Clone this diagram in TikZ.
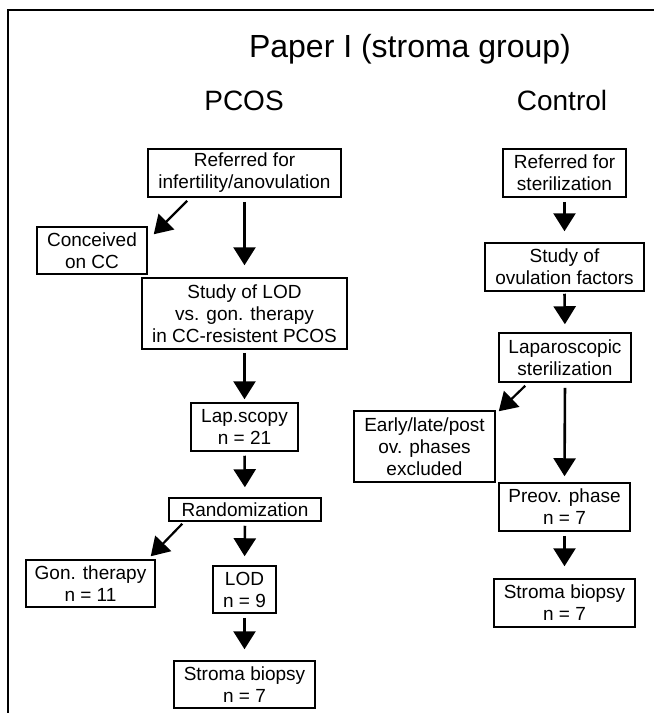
\documentclass[tikz,border=0pt]{standalone}
\usepackage{fontspec}
\setmainfont{Liberation Sans}
\usetikzlibrary{arrows.meta,calc}

\tikzset{every picture/.style={line width=1.5pt}}
\tikzset{
  box/.style={draw, align=center, inner sep=0pt, font=\fontsize{19}{22}\selectfont},
  arr/.style={line width=2.6pt, -{Triangle[width=22pt,length=18pt]}, shorten <=4pt, shorten >=10pt},
  diag/.style={line width=2.2pt, -{Triangle[width=22pt,length=18pt]}}
}

\begin{document}
\begin{tikzpicture}[x=1pt,y=1pt,yscale=-1,xscale=1]
\useasboundingbox (0,0) rectangle (654,713);

%Shape: Frame
\draw [line width=1.8pt] (8,10) rectangle (700,760);

% Text Node
\node (title) at (410,57) [anchor=base] {\fontsize{32}{38}\selectfont Paper I (stroma group)};
% Text Node
\node (pcos) at (244,110) [anchor=base] {\fontsize{28}{34}\selectfont PCOS};
% Text Node
\node (ctrl) at (562,110) [anchor=base] {\fontsize{28}{34}\selectfont Control};

%Shape: Rectangle -- PCOS column
\node (ref) at (244.5,173) [box, minimum width=193, minimum height=48] {Referred for\\infertility/anovulation};
\node (conc) at (92,250.5) [box, minimum width=110, minimum height=47] {Conceived\\on CC};
\node (study) at (244.5,313.5) [box, minimum width=205, minimum height=71] {Study of LOD\\vs. gon. therapy\\in CC-resistent PCOS};
\node (lap) at (244.5,427) [box, minimum width=107, minimum height=48] {Lap.scopy\\n = 21};
\node (rand) at (245,509.5) [box, minimum width=152, minimum height=23] {Randomization};
\node (gon) at (90.5,583.5) [box, minimum width=129, minimum height=47] {Gon. therapy\\n = 11};
\node (lod) at (244.5,589.5) [box, minimum width=63, minimum height=47] {LOD\\n = 9};
\node (bio) at (244.5,684.5) [box, minimum width=141, minimum height=47] {Stroma biopsy\\n = 7};

%Shape: Rectangle -- Control column
\node (cref) at (564.5,173) [box, minimum width=123, minimum height=48] {Referred for\\sterilization};
\node (ovul) at (564.5,267) [box, minimum width=159, minimum height=48] {Study of\\ovulation factors};
\node (clap) at (565,357.5) [box, minimum width=132, minimum height=49] {Laparoscopic\\sterilization};
\node (excl) at (424.5,446.5) [box, minimum width=141, minimum height=71] {Early/late/post\\ov. phases\\excluded};
\node (preov) at (564.5,507) [box, minimum width=131, minimum height=48] {Preov. phase\\n = 7};
\node (cbio) at (564.5,603) [box, minimum width=141, minimum height=48] {Stroma biopsy\\n = 7};

%Straight Lines -- PCOS arrows
\draw [arr, shorten >=12pt] (ref.south) -- (study.north);
\draw [diag] ($(ref.south west)+(40,3)$) -- ($(conc.north east)+(6,8)$);
\draw [arr, shorten <=3pt, shorten >=3pt] (study.south) -- (lap.north);
\draw [arr] (lap.south) -- (rand.north);
\draw [arr, shorten >=9pt] (rand.south) -- (lod.north);
\draw [diag] ($(rand.south west)+(14,2)$) -- ($(gon.north east)+(-5,-3)$);
\draw [arr, shorten >=11pt] (lod.south) -- (bio.north);

%Straight Lines -- Control arrows
\draw [arr, shorten >=11pt] (cref.south) -- (ovul.north);
\draw [arr, shorten <=2pt, shorten >=8pt] (ovul.south) -- (clap.north);
\draw [arr, shorten <=5pt, shorten >=6pt] (clap.south) -- (preov.north);
\draw [diag] ($(clap.south west)+(27,3)$) -- ($(excl.north east)+(3,1)$);
\draw [arr, shorten >=12pt] (preov.south) -- (cbio.north);

\end{tikzpicture}
\end{document}
